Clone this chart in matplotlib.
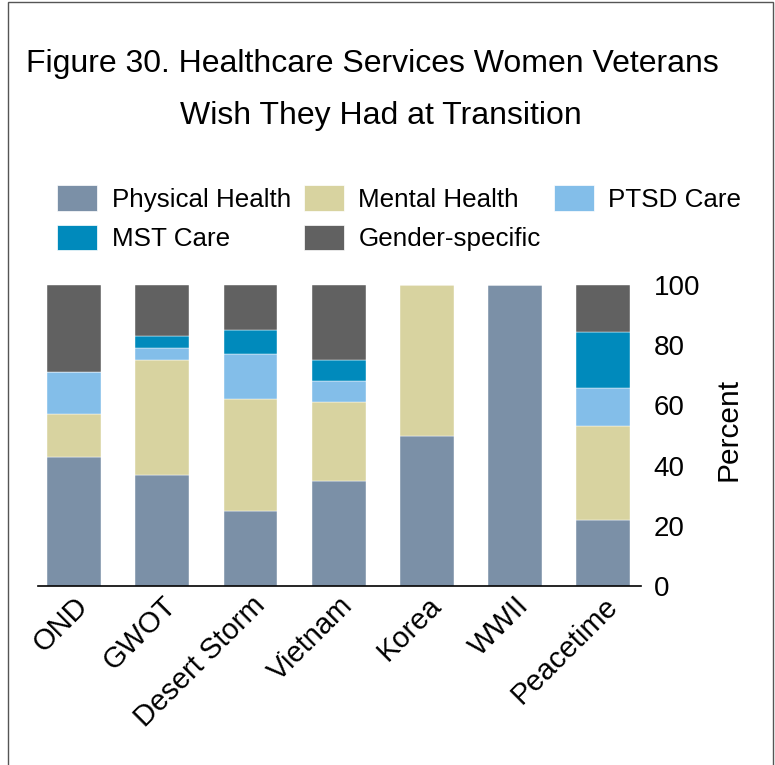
import numpy as np
import matplotlib
matplotlib.use("Agg")
import matplotlib.pyplot as plt
from matplotlib.patches import Patch, Rectangle

plt.rcParams["font.family"] = ["Liberation Sans", "DejaVu Sans"]

# categories (eras of service)
categories = ["OND", "GWOT", "Desert Storm", "Vietnam", "Korea", "WWII", "Peacetime"]

# percent of respondents per service wished for
physical_health = [43, 37, 25, 35, 50, 100, 21.9]
mental_health = [14, 38, 37, 26, 50, 0, 31.3]
ptsd_care = [14, 4, 15, 7, 0, 0, 12.5]
mst_care = [0, 4, 8, 7, 0, 0, 18.8]
gender_specific = [29, 17, 15, 25, 0, 0, 15.5]

series_names = ["Physical Health", "Mental Health", "PTSD Care", "MST Care", "Gender-specific"]
series_colors = ["#7b90a7", "#d8d3a0", "#83bee9", "#008abc", "#616161"]
y_ticks = [0, 20, 40, 60, 80, 100]

fig = plt.figure(figsize=(7.75, 7.65), dpi=100)

# outer frame around the figure
fig.patches.append(Rectangle((8 / 775, -0.05), 765 / 775, 1.05 - 2 / 765,
                             transform=fig.transFigure, fill=False,
                             edgecolor="#555555", linewidth=1.0))

fig.text(0.481, 1 - 64 / 765, "Figure 30. Healthcare Services Women Veterans",
         ha="center", va="center", fontsize=23)
fig.text(0.492, 1 - 116 / 765, "Wish They Had at Transition",
         ha="center", va="center", fontsize=23)

ax = fig.add_axes([38 / 775, 1 - 586 / 765, (641 - 38) / 775, (586 - 285) / 765])

x = np.arange(len(categories))
bottom = np.zeros(len(categories))
all_series = [physical_health, mental_health, ptsd_care, mst_care, gender_specific]
for values, name, color in zip(all_series, series_names, series_colors):
    values = np.array(values, dtype=float)
    ax.bar(x, values, width=0.61, bottom=bottom, color=color,
           edgecolor="white", linewidth=0.3, label=name)
    bottom += values

ax.set_xlim(-0.41, 6.43)
ax.set_ylim(0, 100)
ax.yaxis.tick_right()
ax.yaxis.set_label_position("right")
ax.set_yticks(y_ticks)
ax.tick_params(axis="y", length=0, pad=9, labelsize=20)
ax.tick_params(axis="x", length=0, pad=4, labelsize=21)
ax.set_ylabel("Percent", fontsize=21.5)
ax.yaxis.set_label_coords(1.122, 0.52)
ax.set_xticks(x)
ax.set_xticklabels(categories, rotation=45, ha="right", rotation_mode="anchor")
for side in ["top", "left", "right"]:
    ax.spines[side].set_visible(False)
ax.spines["bottom"].set_linewidth(1.2)

# legend laid out row by row
handles = [Patch(facecolor=c, edgecolor="white", linewidth=0.5) for c in series_colors]
order = [0, 3, 1, 4, 2]
fig.legend([handles[i] for i in order], [series_names[i] for i in order],
           loc="upper left", bbox_to_anchor=(57 / 775, 1 - 185 / 765),
           ncol=3, frameon=False, fontsize=18.7, borderpad=0, borderaxespad=0,
           handlelength=1.55, handleheight=1.15, handletextpad=0.55,
           columnspacing=0.5, labelspacing=0.5)

fig.savefig("out.png", dpi=100)
